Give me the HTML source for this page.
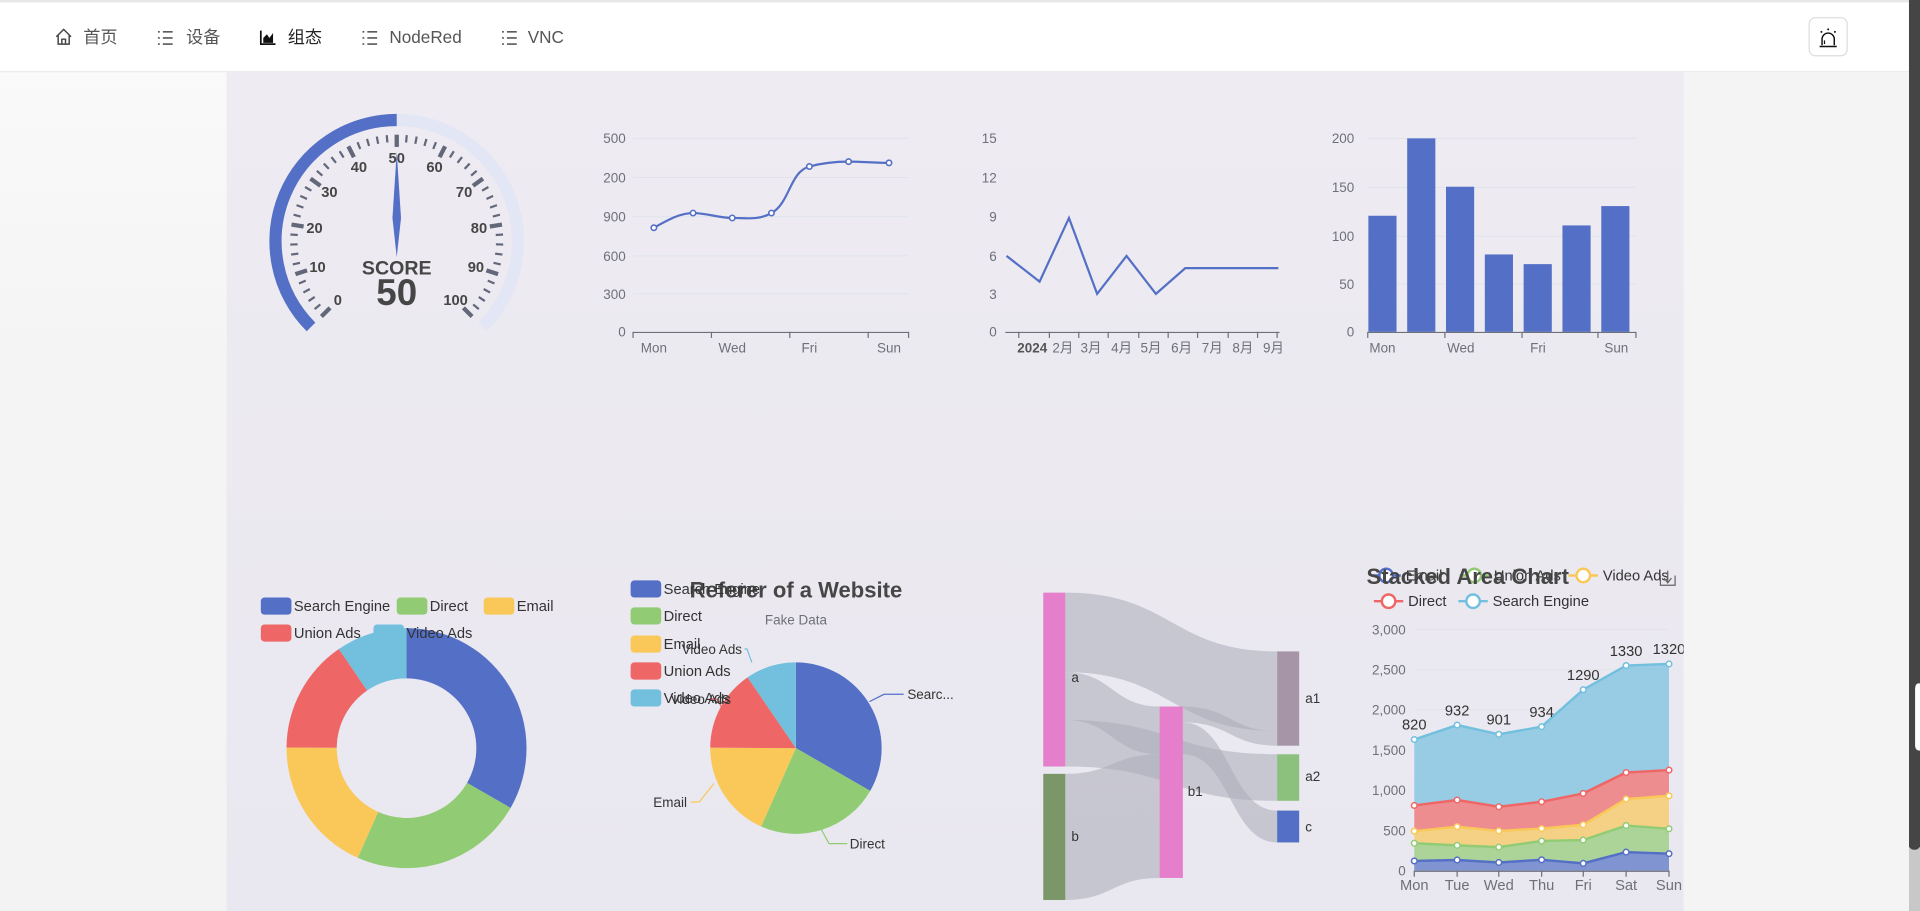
<!DOCTYPE html>
<html><head><meta charset="utf-8">
<style>
html,body{margin:0;padding:0;width:1920px;height:911px;overflow:hidden;background:#f5f5f5}
svg{display:block;position:absolute;left:0;top:0}
text{font-family:"Liberation Sans","Noto Sans CJK SC",sans-serif}
</style></head>
<body>
<svg id="s" width="1920" height="911" viewBox="0 0 1568 744" preserveAspectRatio="none" xmlns="http://www.w3.org/2000/svg" overflow="hidden">
<defs>
<linearGradient id="bg" x1="0" y1="0" x2="0" y2="1"><stop offset="0" stop-color="#fbfbfb"/><stop offset="0.4" stop-color="#f4f4f4"/><stop offset="1" stop-color="#f3f3f3"/></linearGradient>
<linearGradient id="pn" x1="0" y1="0" x2="0" y2="1"><stop offset="0" stop-color="#eeebf2"/><stop offset="1" stop-color="#e9e7ef"/></linearGradient>
</defs>
<rect width="1568" height="744" fill="url(#bg)"/>
<rect x="0" y="0" width="1568" height="58" fill="#fff"/>
<rect x="0" y="0" width="1568" height="2" fill="#e8e8e8"/>
<rect x="0" y="58" width="1568" height="1" fill="#ececec"/>
<rect x="185" y="59" width="1190" height="685" fill="url(#pn)"/>
<g font-size="14" fill="#555">
<path d="M46 30 L52 24 L58 30 M47.5 29 V36 H56.5 V29 M50.5 36 V32 H53.5 V36" fill="none" stroke="#444" stroke-width="1.2"/>
<text x="68" y="35">首页</text>
<g stroke="#555" stroke-width="1.3"><line x1="129" y1="26" x2="130.5" y2="26"/><line x1="133" y1="26" x2="141" y2="26"/><line x1="129" y1="31" x2="130.5" y2="31"/><line x1="133" y1="31" x2="141" y2="31"/><line x1="129" y1="36" x2="130.5" y2="36"/><line x1="133" y1="36" x2="141" y2="36"/></g>
<text x="152" y="35">设备</text>
<path d="M213 25 V36 H225" fill="none" stroke="#111" stroke-width="1.4"/><path d="M215 35 V31 L218 28 L220 31 L223 27 V35 Z" fill="#111"/>
<text x="235" y="35" fill="#222">组态</text>
<g stroke="#555" stroke-width="1.3"><line x1="296" y1="26" x2="297.5" y2="26"/><line x1="300" y1="26" x2="308" y2="26"/><line x1="296" y1="31" x2="297.5" y2="31"/><line x1="300" y1="31" x2="308" y2="31"/><line x1="296" y1="36" x2="297.5" y2="36"/><line x1="300" y1="36" x2="308" y2="36"/></g>
<text x="318" y="35">NodeRed</text>
<g stroke="#555" stroke-width="1.3"><line x1="410" y1="26" x2="411.5" y2="26"/><line x1="414" y1="26" x2="422" y2="26"/><line x1="410" y1="31" x2="411.5" y2="31"/><line x1="414" y1="31" x2="422" y2="31"/><line x1="410" y1="36" x2="411.5" y2="36"/><line x1="414" y1="36" x2="422" y2="36"/></g>
<text x="431" y="35">VNC</text>
</g>
<rect x="1477.5" y="14.5" width="31" height="31" rx="5" fill="#fff" stroke="#ddd"/>
<path d="M1488 37 V32 A5 5 0 0 1 1498 32 V37" fill="none" stroke="#111" stroke-width="1.2"/>
<line x1="1486" y1="38" x2="1500" y2="38" stroke="#111" stroke-width="1.2"/>
<line x1="1490" y1="36" x2="1490" y2="33" stroke="#111"/>
<circle cx="1493" cy="24" r="0.8" fill="#111"/><circle cx="1487.5" cy="26" r="0.8" fill="#111"/><circle cx="1498.5" cy="26" r="0.8" fill="#111"/>
<rect x="1559" y="0" width="9" height="692" fill="#454545"/>
<rect x="1559" y="692" width="9" height="52" fill="#c8c8c8"/>
<rect x="1559" y="686" width="9" height="8" rx="4" fill="#454545"/>
<rect x="1564" y="558" width="6" height="55" rx="4" fill="#fff"/>
<g id="charts"></g>
</svg>
<script>
const g=document.getElementById('charts');
let h='';
const AX='#6e7079',GR='#e0e3ea';
function T(x,y,t,o){o=o||{};h+=`<text x="${x}" y="${y}" font-size="${o.s||11}" fill="${o.c||AX}" text-anchor="${o.a||'start'}" ${o.b?'font-weight="bold"':''}>${t}</text>`;}
const cx=324,cy=197;
function P(r,a){const rad=a*Math.PI/180;return [cx+r*Math.cos(rad),cy-r*Math.sin(rad)];}
function arc(r,a0,a1,col,w){const p0=P(r,a0),p1=P(r,a1);const large=Math.abs(a0-a1)>180?1:0;h+=`<path d="M${p0[0]} ${p0[1]} A${r} ${r} 0 ${large} 1 ${p1[0]} ${p1[1]}" fill="none" stroke="${col}" stroke-width="${w}"/>`;}
arc(99,225,-45,'#e3e6f4',10);
arc(99,225,90,'#5470c6',10);
for(let v=0;v<=100;v+=2){const a=225-v*2.7;const major=v%10==0;const r0=major?77:81,r1=87;const p0=P(r0,a),p1=P(r1,a);h+=`<line x1="${p0[0]}" y1="${p0[1]}" x2="${p1[0]}" y2="${p1[1]}" stroke="#63677a" stroke-width="${major?3.5:1.8}"/>`;
 if(major){const q=P(68,a);T(q[0],q[1]+4,v,{s:12,c:'#464646',a:'middle',b:1});}}
h+=`<polygon points="324,124 327.5,178 324,210 320.5,178" fill="#5470c6"/>`;
T(324,224,'SCORE',{s:16,c:'#464646',a:'middle',b:1});
T(324,249,'50',{s:30,c:'#464646',a:'middle',b:1});
const ys6=[113,145,177,209,240,271];
['500','200','900','600','300','0'].forEach((l,i)=>{T(511,ys6[i]+4,l,{a:'end'});if(i<5)h+=`<line x1="517" y1="${ys6[i]}" x2="742" y2="${ys6[i]}" stroke="${GR}" stroke-width="0.8"/>`;});
h+=`<line x1="517" y1="271.5" x2="742" y2="271.5" stroke="${AX}"/>`;
[517,581,645,709,742].forEach(x=>h+=`<line x1="${x}" y1="271" x2="${x}" y2="276" stroke="${AX}"/>`);
[['Mon',534],['Wed',598],['Fri',661],['Sun',726]].forEach(a=>T(a[1],288,a[0],{a:'middle'}));
h+=`<path d="M534 186 C545 180 555 174 566 174 C577 174 587 178 598 178 C609 178 620 180 630 174 C645 166 645 140 661 136 C672 133 682 132 693 132 C704 132 715 133 726 133" fill="none" stroke="#5470c6" stroke-width="1.8"/>`;
[[534,186],[566,174],[598,178],[630,174],[661,136],[693,132],[726,133]].forEach(p=>h+=`<circle cx="${p[0]}" cy="${p[1]}" r="2.2" fill="#fff" stroke="#5470c6" stroke-width="1.3"/>`);
['15','12','9','6','3','0'].forEach((l,i)=>T(814,ys6[i]+4,l,{a:'end'}));
h+=`<line x1="821" y1="271.5" x2="1045" y2="271.5" stroke="${AX}"/>`;
[832,857,881,905,930,954,978,1003,1027,1043].forEach(x=>h+=`<line x1="${x}" y1="271" x2="${x}" y2="276" stroke="${AX}"/>`);
T(843,288,'2024',{a:'middle',b:1,c:'#555'});
[['2月',868],['3月',891],['4月',916],['5月',940],['6月',965],['7月',990],['8月',1015],['9月',1040]].forEach(a=>T(a[1],288,a[0],{a:'middle'}));
h+=`<polyline points="822,209 849,230 873,178 896,240 920,209 944,240 968,219 1044,219" fill="none" stroke="#5470c6" stroke-width="1.8"/>`;
const bys=[113,153,193,232,271];
['200','150','100','50','0'].forEach((l,i)=>{T(1106,bys[i]+4,l,{a:'end'});if(i<4)h+=`<line x1="1117" y1="${bys[i]}" x2="1336" y2="${bys[i]}" stroke="${GR}" stroke-width="0.8"/>`;});
[120,200,150,80,70,110,130].forEach((v,i)=>{const c=1129+i*31.7,top=271-v*0.79;h+=`<rect x="${c-11.5}" y="${top}" width="23" height="${271-top}" fill="#5470c6"/>`;});
h+=`<line x1="1117" y1="271.5" x2="1336" y2="271.5" stroke="${AX}"/>`;
[1117,1180,1243,1305,1336].forEach(x=>h+=`<line x1="${x}" y1="271" x2="${x}" y2="276" stroke="${AX}"/>`);
[['Mon',1129],['Wed',1193],['Fri',1256],['Sun',1320]].forEach(a=>T(a[1],288,a[0],{a:'middle'}));
const data=[1048,735,580,484,300],cols=['#5470c6','#91cc75','#fac858','#ee6666','#73c0de'],names=['Search Engine','Direct','Email','Union Ads','Video Ads'];
const tot=data.reduce((a,b)=>a+b);
function pie(x,y,R,r){let a=-90;data.forEach((v,i)=>{const da=v/tot*360,a1=a+da;const c=(ang,rr)=>[x+rr*Math.cos(ang*Math.PI/180),y+rr*Math.sin(ang*Math.PI/180)];const p0=c(a,R),p1=c(a1,R),l=da>180?1:0;
 if(r){const q0=c(a1,r),q1=c(a,r);h+=`<path d="M${p0} A${R} ${R} 0 ${l} 1 ${p1} L${q0} A${r} ${r} 0 ${l} 0 ${q1}Z" fill="${cols[i]}"/>`;}
 else h+=`<path d="M${x} ${y} L${p0} A${R} ${R} 0 ${l} 1 ${p1}Z" fill="${cols[i]}"/>`;a=a1;});}
pie(332,611,98,57);
pie(650,611,70,0);
function leg(x,y,i){h+=`<rect x="${x}" y="${y-7}" width="25" height="14" rx="3" fill="${cols[i]}"/>`;T(x+27,y+4,names[i],{s:12,c:'#333'});}
leg(213,495,0);leg(324,495,1);leg(395,495,2);leg(213,517,3);leg(305,517,4);
T(650,488,'Referer of a Website',{s:18,c:'#464646',a:'middle',b:1});
T(650,510,'Fake Data',{s:11,c:'#6e7079',a:'middle'});
[481,503,526,548,570].forEach((y,i)=>leg(515,y,i));
function lab(pts,col,x,y,t,a){h+=`<polyline points="${pts}" fill="none" stroke="${col}" stroke-width="1"/>`;T(x,y,t,{s:11,c:'#333',a:a});}
lab('710,573 722,567 738,567','#5470c6',741,571,'Searc...','start');
lab('670,676 677,689 692,689','#91cc75',694,693,'Direct','start');
lab('583,640 571,655 564,655','#fac858',561,659,'Email','end');
lab('614,541 610,530 608,530','#73c0de',606,534,'Video Ads','end');
lab('592,583 586,571 580,571','#ee6666',597,575,'Video Ads','end');
function link(x0,y0a,y0b,x1,y1a,y1b){const m=(x0+x1)/2;h+=`<path d="M${x0} ${y0a} C${m} ${y0a} ${m} ${y1a} ${x1} ${y1a} L${x1} ${y1b} C${m} ${y1b} ${m} ${y0b} ${x0} ${y0b}Z" fill="#a9acb8" fill-opacity="0.55"/>`;}
link(870,484,549,1043,532,597);
link(870,549,588,947,577,616);
link(870,588,626,1043,616,654);
link(870,632,735,947,616,717);
link(966,577,590,1043,597,609);
link(966,590,616,1043,662,688);
h+=`<rect x="852" y="484" width="18" height="142" fill="#e57ecb"/><rect x="852" y="632" width="18" height="103" fill="#7b9768"/><rect x="947" y="577" width="19" height="140" fill="#e57ecb"/><rect x="1043" y="532" width="18" height="77" fill="#a694a7"/><rect x="1043" y="616" width="18" height="38" fill="#8bc17c"/><rect x="1043" y="662" width="18" height="26" fill="#5470c6"/>`;
T(875,557,'a',{s:11,c:'#333'});T(875,687,'b',{s:11,c:'#333'});T(970,650,'b1',{s:11,c:'#333'});T(1066,574,'a1',{s:11,c:'#333'});T(1066,638,'a2',{s:11,c:'#333'});T(1066,679,'c',{s:11,c:'#333'});
const sy=v=>711-v*197/3000;const xs=[1155,1190,1224,1259,1293,1328,1363];
[['3,000',3000],['2,500',2500],['2,000',2000],['1,500',1500],['1,000',1000],['500',500],['0',0]].forEach(a=>{T(1148,sy(a[1])+4,a[0],{a:'end'});if(a[1])h+=`<line x1="1155" y1="${sy(a[1])}" x2="1363" y2="${sy(a[1])}" stroke="${GR}" stroke-width="0.8"/>`;});
const ser=[[120,132,101,134,90,230,210],[220,182,191,234,290,330,310],[150,232,201,154,190,330,410],[320,332,301,334,390,330,320],[820,932,901,934,1290,1330,1320]];
const sc=['#5470c6','#91cc75','#fac858','#ee6666','#73c0de'];
let base=[0,0,0,0,0,0,0];const layers=[];
ser.forEach((s,k)=>{const top=s.map((v,i)=>base[i]+v);layers.push([base.slice(),top]);base=top;});
layers.forEach((L,k)=>{const [b,t]=L;let d='M'+xs.map((x,i)=>x+' '+sy(t[i])).join(' L')+' L'+xs.slice().reverse().map((x,j)=>x+' '+sy(b[6-j])).join(' L')+'Z';h+=`<path d="${d}" fill="${sc[k]}" fill-opacity="0.7"/>`;});
layers.forEach((L,k)=>{const t=L[1];h+=`<polyline points="${xs.map((x,i)=>x+','+sy(t[i])).join(' ')}" fill="none" stroke="${sc[k]}" stroke-width="2"/>`;xs.forEach((x,i)=>h+=`<circle cx="${x}" cy="${sy(t[i])}" r="2.3" fill="#fff" stroke="${sc[k]}" stroke-width="1.2"/>`);});
ser[4].forEach((v,i)=>T(xs[i],sy(layers[4][1][i])-8,v,{s:12,c:'#333',a:'middle'}));
h+=`<line x1="1155" y1="711.5" x2="1363" y2="711.5" stroke="${AX}"/>`;
xs.forEach(x=>h+=`<line x1="${x}" y1="711" x2="${x}" y2="716" stroke="${AX}"/>`);
['Mon','Tue','Wed','Thu','Fri','Sat','Sun'].forEach((d,i)=>T(xs[i],727,d,{s:12,a:'middle'}));
function lg(x,y,c,t){h+=`<line x1="${x-12}" y1="${y}" x2="${x+12}" y2="${y}" stroke="${c}" stroke-width="2"/><circle cx="${x}" cy="${y}" r="5.5" fill="#fff" stroke="${c}" stroke-width="2"/>`;T(x+16,y+4,t,{s:12,c:'#333'});}
lg(1132,470,'#5470c6','Email');lg(1204,470,'#91cc75','Union Ads');lg(1293,470,'#fac858','Video Ads');lg(1134,491,'#ee6666','Direct');lg(1203,491,'#73c0de','Search Engine');
T(1116,477,'Stacked Area Chart',{s:18,c:'#464646',b:1});
h+=`<path d="M1356 470 V478 H1368 V470 M1359 472 L1362 476 L1365 472 M1362 466 V476" fill="none" stroke="#666" stroke-width="1"/>`;
h+=`<rect x="1375" y="59" width="184" height="685" fill="#f4f4f4"/>`;
g.innerHTML=h;
</script>
</body></html>
